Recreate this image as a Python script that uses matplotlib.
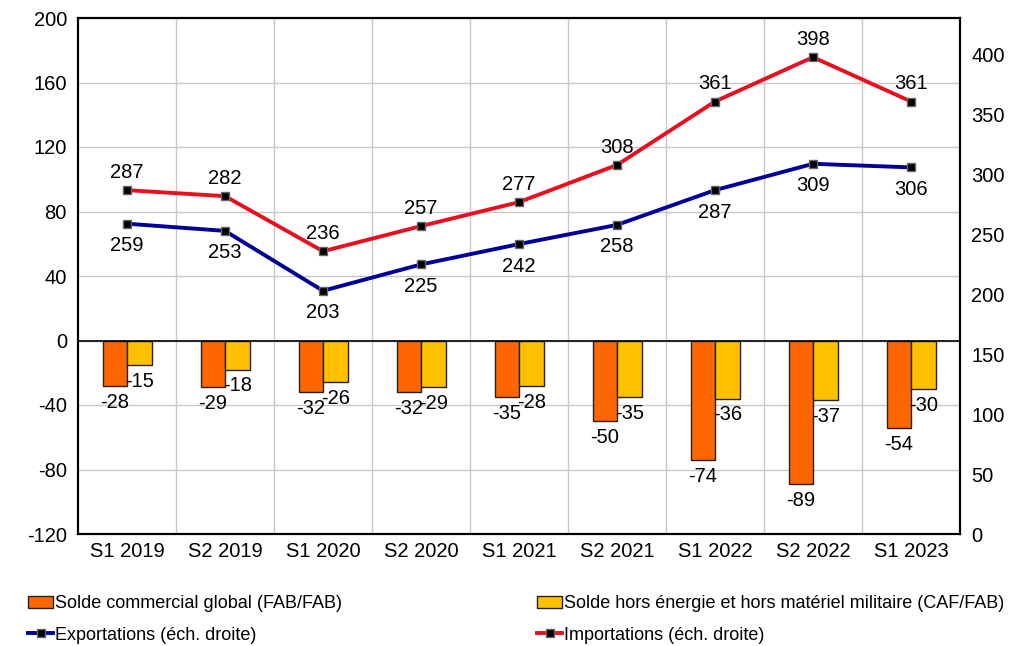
import numpy as np
from matplotlib import pyplot as plt
from matplotlib.patches import Patch
from matplotlib.lines import Line2D

periods = ['S1 2019', 'S2 2019', 'S1 2020', 'S2 2020', 'S1 2021',
           'S2 2021', 'S1 2022', 'S2 2022', 'S1 2023']
solde_global = [-28, -29, -32, -32, -35, -50, -74, -89, -54]
solde_hors = [-15, -18, -26, -29, -28, -35, -36, -37, -30]
exportations = [259, 253, 203, 225, 242, 258, 287, 309, 306]
importations = [287, 282, 236, 257, 277, 308, 361, 398, 361]

plt.rcParams['font.family'] = ['Liberation Sans', 'DejaVu Sans']
plt.rcParams['axes.unicode_minus'] = False
fs = 14.5

fig = plt.figure(figsize=(10.19, 6.46), dpi=100)
ax = fig.add_axes([78 / 1019, 1 - 534 / 646, 882 / 1019, 516 / 646])
ax2 = ax.twinx()

x = np.arange(len(periods))
w = 0.25
orange = '#FF6600'
yellow = '#FFC000'
ax.bar(x - w / 2, solde_global, w, color=orange, edgecolor='#222222', linewidth=1, zorder=3)
ax.bar(x + w / 2, solde_hors, w, color=yellow, edgecolor='#222222', linewidth=1, zorder=3)
for xi, v in zip(x, solde_global):
    ax.annotate(str(v), (xi - w / 2, v), xytext=(0, -5), textcoords='offset points',
                ha='center', va='top', fontsize=fs, zorder=5)
for xi, v in zip(x, solde_hors):
    ax.annotate(str(v), (xi + w / 2, v), xytext=(0, -5), textcoords='offset points',
                ha='center', va='top', fontsize=fs, zorder=5)

ax.set_ylim(-120, 200)
ax.set_yticks(range(-120, 201, 40))
ax.set_xlim(-0.5, len(periods) - 0.5)
ax.set_xticks(x)
ax.set_xticklabels(periods, fontsize=fs)
ax.set_xticks(np.arange(0.5, len(periods) - 0.5, 1), minor=True)
ax.tick_params(axis='y', labelsize=fs, length=0, pad=8)
ax.tick_params(axis='x', which='both', length=0, pad=6)
ax.grid(axis='y', color='#C8C8C8', linewidth=1, zorder=0)
ax.grid(axis='x', which='minor', color='#C8C8C8', linewidth=1, zorder=0)
ax.axhline(0, color='black', linewidth=1.2, zorder=4)

mk = dict(marker='s', markersize=5.5, markerfacecolor='black', markeredgecolor='#666666')
ax2.plot(x, exportations, color='#000099', linewidth=2.8, zorder=6, **mk)
ax2.plot(x, importations, color='#E8101E', linewidth=2.8, zorder=6, **mk)
for xi, v in zip(x, exportations):
    ax2.annotate(str(v), (xi, v), xytext=(0, -9), textcoords='offset points',
                 ha='center', va='top', fontsize=fs)
for xi, v in zip(x, importations):
    ax2.annotate(str(v), (xi, v), xytext=(0, 6), textcoords='offset points',
                 ha='center', va='bottom', fontsize=fs)
ax2.set_ylim(0, 430.7)
ax2.set_yticks(range(0, 401, 50))
ax2.tick_params(axis='y', labelsize=fs, length=0, pad=8)

for a in (ax, ax2):
    for s in a.spines.values():
        s.set_linewidth(1.5)
ax.set_zorder(ax2.get_zorder() - 1)
ax2.patch.set_visible(False)

handles = [
    Patch(facecolor=orange, edgecolor='#222222', label='Solde commercial global (FAB/FAB)'),
    Patch(facecolor=yellow, edgecolor='#222222',
          label='Solde hors énergie et hors matériel militaire (CAF/FAB)'),
    Line2D([], [], color='#000099', linewidth=2.8, label='Exportations (éch. droite)', **mk),
    Line2D([], [], color='#E8101E', linewidth=2.8, label='Importations (éch. droite)', **mk),
]
spots = [(28, 604), (537, 604), (28, 635), (537, 635)]
for h, (px, py) in zip(handles, spots):
    fig.legend(handles=[h], loc='center left', bbox_to_anchor=(px / 1019, 1 - py / 646),
               frameon=False, fontsize=13, handlelength=1.4, handleheight=0.6,
               handletextpad=0.1, borderpad=0, borderaxespad=0)

fig.savefig('out.png', dpi=100)
